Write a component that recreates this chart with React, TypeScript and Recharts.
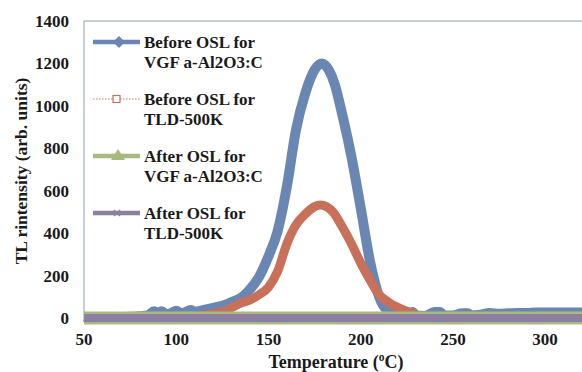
import React from 'react';
import { LineChart, Line, XAxis, YAxis, ReferenceLine } from 'recharts';

const blueT = [50, 55, 60, 65, 70, 75, 80, 85, 88, 90, 92, 95, 100, 103, 108, 110, 115, 120, 125, 130, 136, 140, 145, 150, 155, 160, 165, 170, 175, 179, 183, 186, 190, 195, 200, 205, 210, 215, 220, 225, 228, 230, 235, 240, 243, 245, 250, 255, 258, 260, 265, 270, 275, 280, 285, 290, 295, 300, 305, 310, 315, 320];
const blueV = [5, 0, 3, 5, 5, 6, 8, 14, 32, 16, 32, 16, 34, 22, 38, 30, 38, 48, 58, 75, 100, 135, 195, 290, 410, 620, 890, 1060, 1170, 1200, 1165, 1100, 960, 760, 520, 270, 100, 30, 10, 12, 28, 12, 10, 28, 28, 12, 12, 22, 22, 12, 16, 24, 20, 22, 24, 24, 26, 26, 26, 26, 26, 26];

const orangeT = [100, 105, 110, 113, 120, 127, 130, 135, 140, 145, 150, 155, 160, 165, 170, 175, 178, 180, 185, 190, 195, 200, 205, 210, 215, 220, 225, 230, 235, 240];
const orangeV = [0, 3, 7, 10, 20, 35, 48, 70, 85, 110, 145, 220, 350, 440, 490, 525, 533, 530, 500, 430, 350, 260, 180, 110, 75, 50, 32, 15, 5, 0];

const greenT = [50, 100, 150, 200, 250, 300, 320];
const greenV = [0, 0, 0, 0, 0, 0, 0];

const purpleT = [50, 100, 150, 200, 250, 300, 320];
const purpleV = [0, 0, 0, 0, 0, 0, 0];

const xTicks = [50, 100, 150, 200, 250, 300];
const yTicks = [0, 200, 400, 600, 800, 1000, 1200, 1400];

const legendLines = [
  ['Before OSL for', 'VGF a-Al2O3:C'],
  ['Before OSL for', 'TLD-500K'],
  ['After OSL for', 'VGF a-Al2O3:C'],
  ['After OSL for', 'TLD-500K'],
];

const toRows = (t: number[], v: number[]) => t.map((x, i) => ({ t: x, v: v[i] }));

const BLUE = '#6A86B2';
const ORANGE = '#C9705A';
const GREEN = '#A9B982';
const PURPLE = '#8D7EA2';
const FONT = '"Liberation Serif", "Times New Roman", serif';

const CustomLegend = () => {
  const colors = [BLUE, ORANGE, GREEN, PURPLE];
  return (
    <svg width={220} height={250} style={{ overflow: 'visible', display: 'block' }}>
      {legendLines.map((lines, i) => {
        const y = 10 + i * 57;
        const c = colors[i];
        return (
          <g key={i}>
            {i === 1 ? (
              <line x1={0} x2={47} y1={y} y2={y} stroke={c} strokeWidth={1} strokeDasharray="1.5 1.5" />
            ) : (
              <line x1={0} x2={47} y1={y} y2={y} stroke={c} strokeWidth={4.5} />
            )}
            {i === 0 && <polygon points={`26,${y - 6} 32,${y} 26,${y + 6} 20,${y}`} fill={c} />}
            {i === 1 && <rect x={20} y={y - 3.5} width={7} height={7} fill="#fff" stroke={c} strokeWidth={1.2} />}
            {i === 2 && <polygon points={`25,${y - 7} 32,${y + 4} 18,${y + 4}`} fill={c} />}
            {i === 3 && (
              <g stroke={c} strokeWidth={1.5}>
                <line x1={21} y1={y - 3} x2={27} y2={y + 3} />
                <line x1={21} y1={y + 3} x2={27} y2={y - 3} />
              </g>
            )}
            <text x={51} y={y + 6} fontFamily={FONT} fontWeight="bold" fontSize={17} fill="#1a1a1a">
              {lines[0]}
            </text>
            <text x={51} y={y + 26} fontFamily={FONT} fontWeight="bold" fontSize={17} fill="#1a1a1a">
              {lines[1]}
            </text>
          </g>
        );
      })}
    </svg>
  );
};

export default function App() {
  return (
    <div style={{ position: 'absolute', left: 0, top: 0, width: 582, height: 372, background: '#fff', overflow: 'hidden' }}>
      <LineChart width={582} height={372} margin={{ top: 21, right: 0, bottom: 0, left: 0 }}>
        <XAxis
          dataKey="t"
          type="number"
          domain={[50, 320]}
          ticks={xTicks}
          allowDuplicatedCategory={false}
          height={54}
          tickSize={0}
          tickMargin={15}
          axisLine={false}
          tick={{ fontFamily: FONT, fontWeight: 'bold', fontSize: 17, fill: '#1a1a1a' }}
          label={{
            content: () => (
              <text x={336} y={368} textAnchor="middle" fontFamily={FONT} fontWeight="bold" fontSize={18} fill="#1a1a1a">
                Temperature (<tspan fontSize={11.5} dy={-7}>o</tspan><tspan dy={7}>C)</tspan>
              </text>
            ),
          }}
        />
        <YAxis
          type="number"
          domain={[0, 1400]}
          ticks={yTicks}
          width={84}
          tickSize={0}
          tickMargin={15}
          axisLine={{ stroke: '#8C9DB5', strokeWidth: 1 }}
          tick={{ fontFamily: FONT, fontWeight: 'bold', fontSize: 17, fill: '#1a1a1a' }}
          label={{
            content: () => (
              <text
                x={21}
                y={171}
                transform="rotate(-90 21 171)"
                textAnchor="middle"
                dominantBaseline="central"
                fontFamily={FONT}
                fontWeight="bold"
                fontSize={17.5}
                fill="#1a1a1a"
              >
                TL rintensity (arb. units)
              </text>
            ),
          }}
        />
        <ReferenceLine y={1400} stroke="#8C9DB5" strokeWidth={1} />
        <Line data={toRows(blueT, blueV)} dataKey="v" type="monotone" stroke={BLUE} strokeWidth={10} dot={false} isAnimationActive={false} />
        <Line data={toRows(orangeT, orangeV)} dataKey="v" type="monotone" stroke={ORANGE} strokeWidth={9} dot={false} isAnimationActive={false} />
        <Line data={toRows(greenT, greenV)} dataKey="v" type="linear" stroke={GREEN} strokeWidth={13} dot={false} isAnimationActive={false} />
        <Line data={toRows(purpleT, purpleV)} dataKey="v" type="linear" stroke={PURPLE} strokeWidth={8} dot={false} isAnimationActive={false} />
      </LineChart>
      <div style={{ position: 'absolute', left: 93, top: 32 }}>
        <CustomLegend />
      </div>
    </div>
  );
}
